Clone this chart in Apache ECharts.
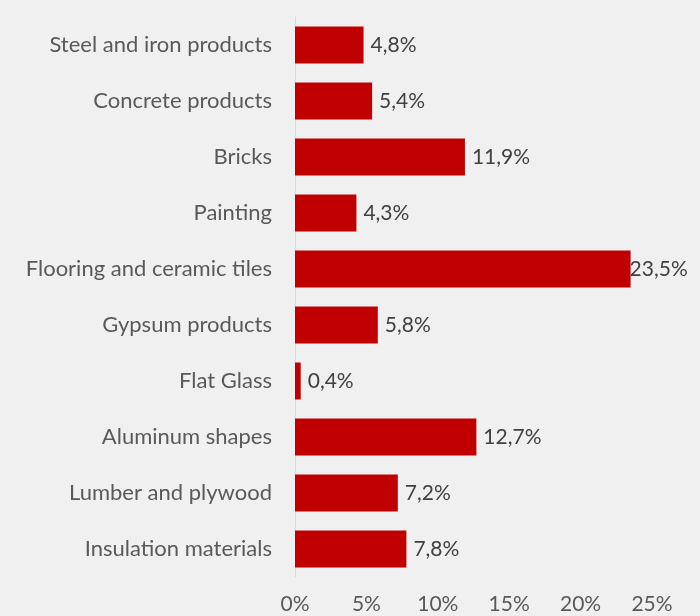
<!DOCTYPE html>
<html><head><meta charset="utf-8">
<script src="https://cdn.jsdelivr.net/npm/echarts@6/dist/echarts.min.js"></script>
<style>html,body{margin:0;padding:0;background:#f0f0f0;}#c{width:700px;height:616px;}</style>
</head><body><div id="c"></div>
<script>
const categories = ["Steel and iron products","Concrete products","Bricks","Painting","Flooring and ceramic tiles","Gypsum products","Flat Glass","Aluminum shapes","Lumber and plywood","Insulation materials"];
const values = [4.8, 5.4, 11.9, 4.3, 23.5, 5.8, 0.4, 12.7, 7.2, 7.8];
const xTicks = [0, 5, 10, 15, 20, 25];

const fmt = v => v.toFixed(1).replace('.', ',') + '%';
const chart = echarts.init(document.getElementById('c'));
chart.setOption({
  backgroundColor: '#f0f0f0',
  animation: false,
  grid: {left: 295, right: 48, top: 17, bottom: 39, containLabel: false},
  xAxis: {
    type: 'value', min: xTicks[0], max: xTicks[xTicks.length-1], interval: 5,
    axisLine: {show: false}, axisTick: {show: false}, splitLine: {show: false},
    axisLabel: {formatter: v => v + '%', color: '#595959', fontSize: 21, fontFamily: 'Lato', margin: 17}
  },
  yAxis: {
    type: 'category', data: categories, inverse: true,
    axisLine: {show: true, lineStyle: {color: '#d9d9d9', width: 1}},
    axisTick: {show: false},
    axisLabel: {color: '#595959', fontSize: 22, fontFamily: 'Lato', margin: 23}
  },
  series: [{
    type: 'bar', barWidth: '66%',
    data: values.map(v => ({value: v, label: v > 20 ? {distance: -1} : {}})),
    itemStyle: {color: '#c00000'},
    label: {show: true, position: 'right', distance: 7, color: '#404040', fontSize: 21, fontFamily: 'Lato', formatter: p => fmt(p.value)}
  }]
});
</script></body></html>
